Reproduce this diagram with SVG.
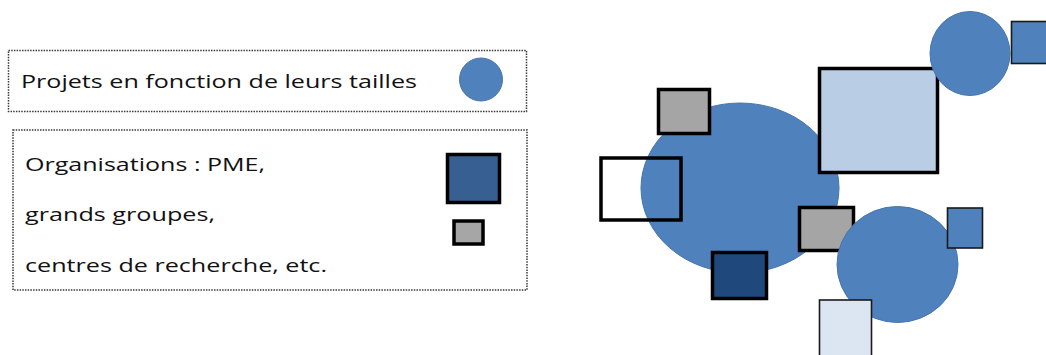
<svg xmlns="http://www.w3.org/2000/svg" width="1046" height="355" viewBox="0 0 1046 355">
<style>
.box{fill:#fff;stroke:#3a3a3a;stroke-width:1.5;stroke-dasharray:1.5 1.2}
.t{font-family:"Open Sans","Liberation Sans",sans-serif;font-size:19px;fill:#111}
.proj{fill:#4f81bd;stroke:#4675ad;stroke-width:1}
.org{stroke:#000;stroke-width:3.5}
.orgthin{stroke:#1a1a1a;stroke-width:1.6}
</style>
<rect width="1046" height="355" fill="#fff"/>
<g id="legend-projets">
<rect class="box" x="8.5" y="50.5" width="518" height="61"/>
<text class="t" x="21" y="88" textLength="396" lengthAdjust="spacingAndGlyphs">Projets en fonction de leurs tailles</text>
<circle class="proj" cx="481" cy="79.5" r="21.5"/>
</g>
<g id="legend-organisations">
<rect class="box" x="13" y="130" width="514" height="160"/>
<text class="t" x="25" y="171" textLength="240" lengthAdjust="spacingAndGlyphs">Organisations : PME,</text>
<text class="t" x="25" y="221" textLength="190" lengthAdjust="spacingAndGlyphs">grands groupes,</text>
<text class="t" x="25" y="272" textLength="302" lengthAdjust="spacingAndGlyphs">centres de recherche, etc.</text>
<rect class="org" x="447.5" y="154.5" width="52" height="48" fill="#375f91"/>
<rect class="org" x="454" y="221" width="29" height="23" fill="#a6a6a6" stroke-width="3"/>
</g>
<g id="projet-1"><ellipse class="proj" cx="740" cy="188" rx="99" ry="85"/></g>
<g id="org-gris-1"><rect class="org" x="658.5" y="89.5" width="51" height="44" fill="#a5a5a5"/></g>
<g id="org-blanc"><rect class="org" x="601" y="158" width="80" height="62" fill="none"/></g>
<g id="org-marine"><rect class="org" x="712.5" y="252.5" width="54" height="46" fill="#1f497d"/></g>
<g id="org-bleu-clair"><rect class="org" x="819.5" y="68.5" width="118" height="104" fill="#b9cde5"/></g>
<g id="projet-2"><ellipse class="proj" cx="970" cy="53.5" rx="40" ry="42"/></g>
<g id="org-bleu-1"><rect class="orgthin" x="1011.5" y="21.5" width="40" height="42" fill="#4f81bd"/></g>
<g id="org-gris-2"><rect class="org" x="799.5" y="207.5" width="54" height="43" fill="#a5a5a5"/></g>
<g id="projet-3"><ellipse class="proj" cx="897.5" cy="264.5" rx="60.5" ry="58"/></g>
<g id="org-bleu-2"><rect class="orgthin" x="947.5" y="208" width="35" height="40" fill="#4f81bd"/></g>
<g id="org-bleu-pale"><rect class="orgthin" x="819.5" y="300" width="52" height="60" fill="#dce6f2"/></g>
<g id="connectors"/>
</svg>
